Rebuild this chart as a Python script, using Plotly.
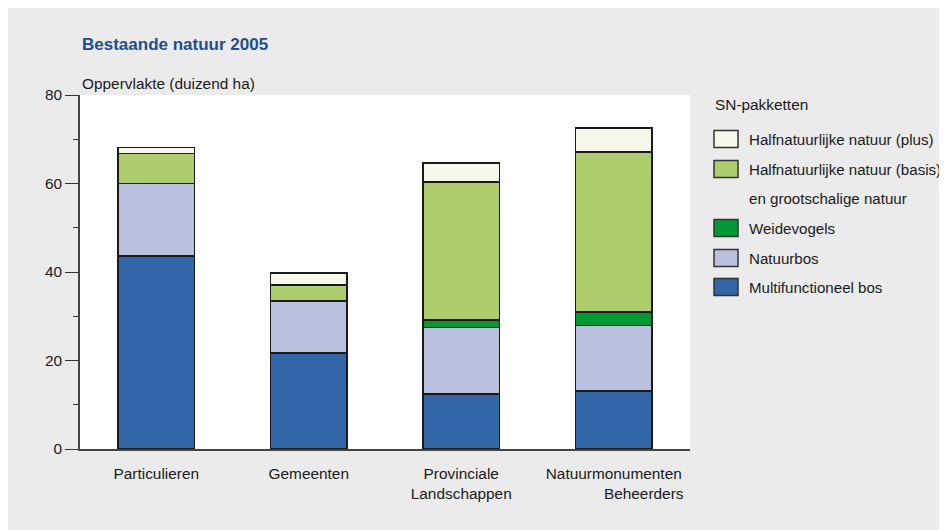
import plotly.graph_objs as go

# Beheerders (x-as)
categories = [
    "Particulieren",
    "Gemeenten",
    "Provinciale<br>Landschappen",
    "Natuurmonumenten<br>" + "\u00a0" * 14 + "Beheerders",
]

# Oppervlakte per SN-pakket (duizend ha)
multifunctioneel_bos = [43.6, 21.7, 12.4, 13.1]
natuurbos = [16.4, 11.7, 15.1, 14.8]
weidevogels = [None, None, 1.6, 3.1]
halfnatuurlijk_basis = [6.8, 3.7, 31.2, 36.1]
halfnatuurlijk_plus = [1.3, 2.7, 4.3, 5.4]

series_names = [
    "Multifunctioneel bos",
    "Natuurbos",
    "Weidevogels",
    "Halfnatuurlijke natuur (basis)<br>en grootschalige natuur",
    "Halfnatuurlijke natuur (plus)",
]
series_colors = ["#3366A6", "#B9C1DE", "#009933", "#AECD6C", "#F5F8EA"]
series_values = [multifunctioneel_bos, natuurbos, weidevogels,
                 halfnatuurlijk_basis, halfnatuurlijk_plus]

fig = go.Figure()
for name, color, vals in zip(series_names, series_colors, series_values):
    fig.add_trace(go.Bar(
        x=categories,
        y=vals,
        name=name,
        width=0.5,
        marker=dict(color=color, line=dict(color="#1a1a1a", width=1.5)),
        showlegend=False,
    ))

font = "Liberation Sans, Arial, sans-serif"
fs = 15.4

# plotgebied: 610 x 354 px (pagina heeft 8px body-marge)
fig.update_layout(
    width=939,
    height=522,
    barmode="stack",
    paper_bgcolor="#EBEBEB",
    plot_bgcolor="white",
    margin=dict(l=72, r=257, t=87, b=81),
    font=dict(family=font, size=fs, color="#1a1a1a"),
    xaxis=dict(
        showline=True, linecolor="#444", linewidth=1.5,
        ticks="", ticklabelstandoff=10, showgrid=False,
    ),
    yaxis=dict(
        range=[0, 80],
        tickvals=[0, 20, 40, 60, 80],
        ticks="outside", ticklen=13, tickwidth=1.2, tickcolor="#333",
        showline=True, linecolor="#444", linewidth=1.5,
        showgrid=False, zeroline=False,
        minor=dict(tickvals=[10, 30, 50, 70], ticks="outside",
                   ticklen=5, tickwidth=1.2, tickcolor="#333"),
    ),
)

# Titels
fig.add_annotation(
    text="<b>Bestaande natuur 2005</b>", xref="paper", yref="paper",
    x=0, y=1, yshift=51, xanchor="left", yanchor="middle",
    showarrow=False, font=dict(size=17, color="#1F4E8C"),
)
fig.add_annotation(
    text="Oppervlakte (duizend ha)", xref="paper", yref="paper",
    x=0, y=1, yshift=12, xanchor="left", yanchor="middle",
    showarrow=False,
)

# Legenda (handmatig, zoals het origineel)
plot_left, plot_w = 80, 610
plot_top, plot_h = 95, 354


def px_x(x):
    return (x - plot_left) / plot_w


def px_y(y):
    return 1 - (y - plot_top) / plot_h


fig.add_annotation(
    text="SN-pakketten", xref="paper", yref="paper",
    x=px_x(713), y=px_y(105), xanchor="left", yanchor="middle",
    showarrow=False,
)
legend_rows = [
    ("Halfnatuurlijke natuur (plus)", "#F5F8EA", 139),
    ("Halfnatuurlijke natuur (basis)", "#AECD6C", 169),
    ("en grootschalige natuur", None, 198),
    ("Weidevogels", "#009933", 228),
    ("Natuurbos", "#B9C1DE", 258),
    ("Multifunctioneel bos", "#3366A6", 287),
]
for label, color, ypix in legend_rows:
    if color:
        fig.add_shape(
            type="rect", xref="paper", yref="paper",
            x0=px_x(714), x1=px_x(738),
            y0=px_y(ypix + 8.5), y1=px_y(ypix - 8.5),
            fillcolor=color, line=dict(color="#333", width=1.5),
        )
    fig.add_annotation(
        text=label, xref="paper", yref="paper",
        x=px_x(747), y=px_y(ypix), xanchor="left", yanchor="middle",
        showarrow=False, font=dict(size=15.1),
    )

fig.write_html("out.html")
